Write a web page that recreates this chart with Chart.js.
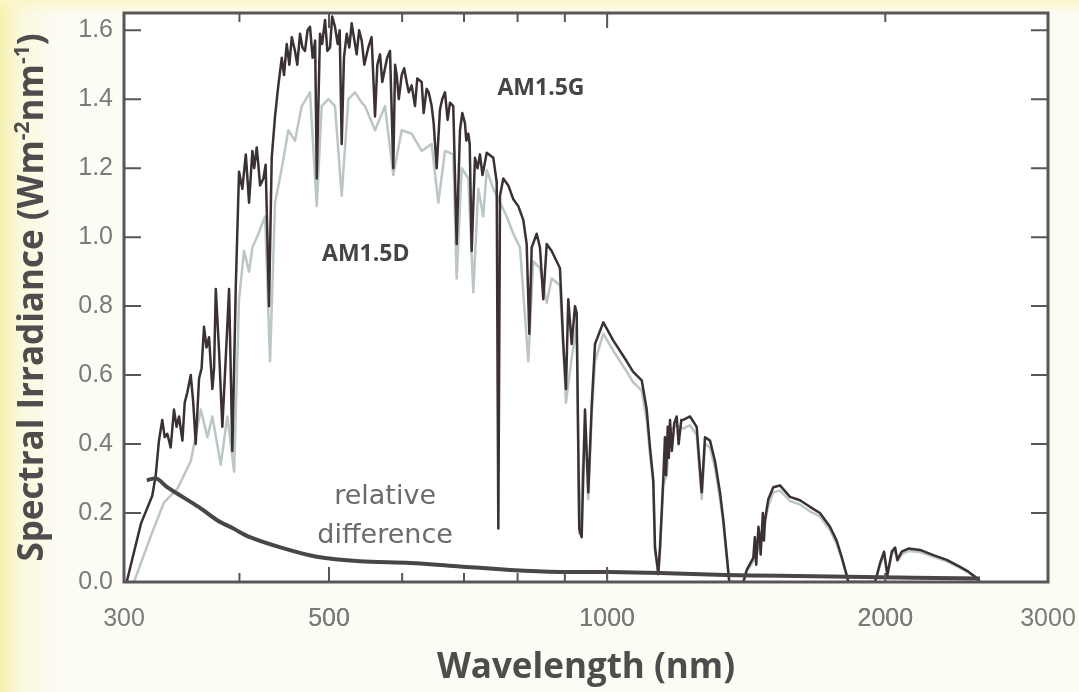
<!DOCTYPE html>
<html>
<head>
<meta charset="utf-8">
<script src="https://cdn.jsdelivr.net/npm/chart.js@4.4.1/dist/chart.umd.min.js"></script>
<style>
  html, body { margin: 0; padding: 0; }
  body {
    width: 1079px; height: 692px; overflow: hidden;
    background:
      linear-gradient(to bottom, rgba(250, 246, 200, 0.9) 0px, rgba(250, 246, 200, 0) 14px),
      linear-gradient(to right, #f5f1b0 0px, #faf8dc 20px, #fcfcf4 60px);
  }
  canvas { display: block; }
</style>
</head>
<body>
<canvas id="spectrum" width="1079" height="692"></canvas>
<script>
// AM1.5G global spectrum (dark line)
const wlGlobal = [302, 313, 321.9, 324.7, 327.3, 330, 332, 334.2, 337, 339.8, 342, 344.1, 347, 349, 351.3, 354.3, 356.5, 358.7, 361.7, 364,
  366.2, 368.5, 370.8, 373.9, 375.5, 377.1, 380.2, 383.3, 386.6, 389.8, 393, 396.4, 399.6, 402.9, 406.4, 409.7, 413.1, 415, 417.6, 419,
  421.1, 424.6, 427, 430.6, 433.5, 437.1, 440.7, 444.5, 447, 450, 453, 455.7, 459.4, 462, 465.2, 468, 471, 474, 476.9, 480,
  483, 485, 488.9, 491.5, 495.1, 498, 501.3, 504, 507.5, 511, 513.5, 516.1, 519, 522.6, 526, 529.1, 532, 535.7, 539, 542.5,
  546, 551.5, 556, 560.8, 564, 567.8, 571, 574.9, 578, 582.1, 586.9, 589.5, 591.9, 595, 599.3, 603, 606.8, 610, 614.4, 619.5,
  623, 629.9, 633, 637.8, 641, 645.8, 649, 653.9, 659.3, 663, 667.6, 672, 676, 681.5, 687.3, 693, 697, 701.7, 704, 707.5,
  710, 713.5, 719.4, 724, 728.4, 733, 740.8, 753, 759.4, 762.5, 765.7, 772, 781.7, 791.5, 801.4, 811.4, 818.3, 823.7, 828.6, 839,
  845.9, 852.9, 860.2, 870.9, 881.8, 889.1, 896.5, 902.5, 907.7, 915.4, 923, 926.9, 932.9, 938.5, 946.3, 954.1, 962.2, 970.2, 990.5, 1015.6,
  1050, 1066.6, 1090, 1103.6, 1112.7, 1121.9, 1126.7, 1136, 1140.8, 1150.2, 1155, 1158, 1163, 1166, 1169.6, 1175, 1182, 1189.3, 1195, 1203,
  1209, 1229.4, 1250, 1265.8, 1276.2, 1292.2, 1308.4, 1324.8, 1335.8, 1347, 1355.8, 1404, 1416, 1439.4, 1445, 1450, 1458, 1463.7, 1466, 1474,
  1478, 1482, 1494.2, 1513, 1538.4, 1577.2, 1617, 1657.7, 1699.5, 1742.4, 1771.7, 1793.9, 1816.4, 1823.6, 1949.8, 1974.3, 1994, 2010.5, 2032.7, 2049.5,
  2061.2, 2084, 2118.5, 2181.2, 2254.6, 2331, 2409.7, 2460, 2501.5, 2532.8];
const irrGlobal = [0.00, 0.17, 0.25, 0.31, 0.41, 0.47, 0.42, 0.43, 0.39, 0.50, 0.45, 0.48, 0.41, 0.52, 0.55, 0.60, 0.52, 0.40, 0.59, 0.62,
  0.74, 0.68, 0.71, 0.56, 0.62, 0.85, 0.67, 0.45, 0.65, 0.85, 0.38, 0.86, 1.19, 1.14, 1.24, 1.10, 1.25, 1.20, 1.26, 1.22,
  1.15, 1.17, 1.21, 0.80, 1.23, 1.35, 1.44, 1.52, 1.47, 1.56, 1.50, 1.58, 1.54, 1.50, 1.59, 1.55, 1.54, 1.60, 1.61, 1.52,
  1.57, 1.17, 1.59, 1.56, 1.63, 1.54, 1.55, 1.64, 1.61, 1.56, 1.60, 1.27, 1.52, 1.59, 1.55, 1.62, 1.58, 1.53, 1.60, 1.57,
  1.50, 1.55, 1.58, 1.35, 1.50, 1.53, 1.45, 1.49, 1.52, 1.54, 1.20, 1.50, 1.47, 1.40, 1.47, 1.49, 1.45, 1.42, 1.44, 1.38,
  1.46, 1.45, 1.36, 1.43, 1.42, 1.38, 1.33, 1.20, 1.37, 1.40, 1.42, 1.34, 1.39, 1.38, 0.98, 1.31, 1.36, 1.33, 1.28, 1.30,
  1.27, 0.96, 1.23, 1.20, 1.24, 1.18, 1.245, 1.23, 1.16, 0.155, 1.12, 1.17, 1.15, 1.11, 1.09, 1.05, 0.98, 0.72, 0.97, 1.01,
  0.97, 0.82, 0.98, 0.96, 0.93, 0.91, 0.69, 0.56, 0.82, 0.69, 0.80, 0.78, 0.155, 0.13, 0.50, 0.26, 0.51, 0.69, 0.753, 0.70,
  0.64, 0.61, 0.585, 0.50, 0.39, 0.295, 0.10, 0.025, 0.10, 0.30, 0.42, 0.31, 0.45, 0.36, 0.47, 0.38, 0.46, 0.48, 0.40, 0.47,
  0.47, 0.48, 0.45, 0.26, 0.42, 0.41, 0.35, 0.26, 0.18, 0.08, 0.00, 0.00, 0.035, 0.07, 0.13, 0.05, 0.16, 0.12, 0.08, 0.20,
  0.12, 0.18, 0.24, 0.275, 0.28, 0.247, 0.237, 0.218, 0.20, 0.16, 0.12, 0.073, 0.02, 0.00, 0.00, 0.055, 0.088, 0.02, 0.088, 0.10,
  0.064, 0.088, 0.097, 0.093, 0.078, 0.064, 0.044, 0.03, 0.015, 0.00];

// AM1.5D direct spectrum (light grey line)
const wlDirect = [307.6, 320.4, 331.3, 342.6, 354.3, 363.3, 369.3, 373.9, 381.8, 388.1, 394.7, 399.6, 404.6, 409.7, 413.1, 419.3, 426.4, 431.7, 437.1, 444.5,
  451.8, 459.4, 467.2, 476.9, 485, 491, 499.2, 507.5, 516.1, 524.7, 533.5, 542.5, 547, 560.8, 574.9, 586.9, 599.3, 614.4, 629.9, 645.8,
  656.6, 667.6, 681.5, 687.3, 696, 707.5, 716.4, 725.3, 734.4, 740.8, 753, 765.7, 778.6, 791.5, 804.8, 821.6, 832, 845.9, 860.2, 870.9,
  889.1, 902.5, 915.4, 926.9, 932.9, 946.3, 954.1, 962.2, 970.2, 990.5, 1015.6, 1050, 1066.6, 1090, 1103.6, 1112.7, 1121.9, 1126.7, 1136, 1140.8,
  1150.2, 1160, 1169.6, 1189.3, 1209, 1229.4, 1250, 1265.8, 1276.2, 1292.2, 1308.4, 1324.8, 1335.8, 1347, 1355.8, 1404, 1416, 1439.4, 1463.7, 1482,
  1494.2, 1513, 1538.4, 1577.2, 1617, 1657.7, 1699.5, 1742.4, 1771.7, 1793.9, 1816.4, 1823.6, 1949.8, 1974.3, 1994, 2010.5, 2032.7, 2049.5, 2061.2, 2084,
  2118.5, 2181.2, 2254.6, 2331, 2409.7, 2460, 2501.5, 2532.8];
const irrDirect = [0.00, 0.13, 0.23, 0.27, 0.35, 0.50, 0.42, 0.48, 0.34, 0.48, 0.32, 0.82, 0.96, 0.90, 0.97, 1.01, 1.06, 0.64, 1.10, 1.20,
  1.31, 1.28, 1.38, 1.42, 1.09, 1.38, 1.40, 1.38, 1.12, 1.40, 1.42, 1.39, 1.38, 1.31, 1.38, 1.18, 1.31, 1.30, 1.25, 1.27,
  1.10, 1.25, 1.24, 0.88, 1.20, 1.17, 0.84, 1.14, 1.06, 1.195, 1.14, 1.10, 1.06, 1.01, 0.97, 0.64, 0.93, 0.91, 0.81, 0.88,
  0.86, 0.52, 0.65, 0.74, 0.14, 0.46, 0.24, 0.48, 0.64, 0.72, 0.67, 0.61, 0.58, 0.555, 0.47, 0.37, 0.28, 0.09, 0.02, 0.09,
  0.28, 0.31, 0.44, 0.455, 0.445, 0.455, 0.425, 0.24, 0.40, 0.39, 0.33, 0.24, 0.17, 0.07, 0.00, 0.00, 0.03, 0.06, 0.11, 0.17,
  0.22, 0.26, 0.265, 0.235, 0.225, 0.205, 0.19, 0.15, 0.11, 0.07, 0.02, 0.00, 0.00, 0.05, 0.08, 0.02, 0.08, 0.09, 0.06, 0.08,
  0.09, 0.087, 0.073, 0.06, 0.041, 0.028, 0.014, 0.00];

// relative difference curve
const wlRelative = [317.5, 325.5, 333.7, 347.5, 362.6, 378, 394, 410.6, 445.8, 485, 540, 612, 693, 785, 889, 1007, 1141, 1342, 1539, 1822, 2532];
const relDiff = [0.295, 0.30, 0.276, 0.246, 0.215, 0.18, 0.155, 0.13, 0.098, 0.073, 0.06, 0.055, 0.045, 0.035, 0.029, 0.029, 0.026, 0.02, 0.018, 0.015, 0.01];

// axes
const xTickLabels = [300, 500, 1000, 2000, 3000];
const xTickMarks = [400, 500, 600, 700, 800, 900, 1000, 2000];
const xLongTicks = [500, 1000];
const yTickValues = [0, 0.2, 0.4, 0.6, 0.8, 1.0, 1.2, 1.4, 1.6];

const toPoints = (xs, ys) => xs.map((v, i) => ({ x: v, y: ys[i] }));

const framePlugin = {
  id: 'frame',
  beforeDatasetsDraw(chart) {
    const { ctx, chartArea: a } = chart;
    ctx.save();
    ctx.fillStyle = '#ffffff';
    ctx.fillRect(a.left, a.top, a.width, a.height);
    ctx.restore();
  },
  afterDatasetsDraw(chart) {
    const { ctx, chartArea: a, scales: { x, y } } = chart;
    ctx.save();
    ctx.strokeStyle = '#5a5658';
    ctx.lineWidth = 2;
    ctx.beginPath();
    xTickMarks.forEach(v => {
      const px = x.getPixelForValue(v);
      const len = xLongTicks.includes(v) ? 15 : 9;
      ctx.moveTo(px, a.bottom); ctx.lineTo(px, a.bottom - len);
      ctx.moveTo(px, a.top); ctx.lineTo(px, a.top + len);
    });
    yTickValues.forEach(v => {
      if (v === 0) return;
      const py = y.getPixelForValue(v);
      ctx.moveTo(a.left, py); ctx.lineTo(a.left + 17, py);
      ctx.moveTo(a.right, py); ctx.lineTo(a.right - 17, py);
    });
    ctx.stroke();
    ctx.lineWidth = 3;
    ctx.strokeRect(a.left, a.top, a.width, a.height);

    // curve labels
    ctx.fillStyle = '#474446';
    ctx.font = 'bold 23px "Open Sans"';
    ctx.textAlign = 'center';
    ctx.textBaseline = 'middle';
    ctx.fillText('AM1.5G', x.getPixelForValue(848), y.getPixelForValue(1.43));
    ctx.fillText('AM1.5D', x.getPixelForValue(548), y.getPixelForValue(0.95));
    ctx.fillStyle = '#6c6a6b';
    ctx.font = '27px "DejaVu Sans"';
    ctx.fillText('relative', x.getPixelForValue(575), y.getPixelForValue(0.246));
    ctx.fillText('difference', x.getPixelForValue(575), y.getPixelForValue(0.133));
    ctx.restore();
  },
  afterDraw(chart) {
    // y axis title with superscripts
    const { ctx, chartArea: a } = chart;
    const parts = [['Spectral Irradiance (Wm', 0], ['-2', 1], ['nm', 0], ['-1', 1], [')', 0]];
    const big = 'bold 35px "Open Sans"', small = 'bold 21px "Open Sans"';
    ctx.save();
    let total = 0;
    parts.forEach(([t, sup]) => { ctx.font = sup ? small : big; total += ctx.measureText(t).width; });
    ctx.translate(33, (a.top + a.bottom) / 2);
    ctx.rotate(-Math.PI / 2);
    ctx.fillStyle = '#4f4c4e';
    ctx.textBaseline = 'middle';
    ctx.textAlign = 'left';
    let pos = -total / 2;
    parts.forEach(([t, sup]) => {
      ctx.font = sup ? small : big;
      ctx.fillText(t, pos, sup ? -10 : 0);
      pos += ctx.measureText(t).width;
    });
    ctx.restore();
  }
};

new Chart(document.getElementById('spectrum'), {
  type: 'line',
  data: {
    datasets: [
      { label: 'relative difference', data: toPoints(wlRelative, relDiff), borderColor: '#4a4547', borderWidth: 4, tension: 0.3 },
      { label: 'AM1.5G', data: toPoints(wlGlobal, irrGlobal), borderColor: '#3a3035', borderWidth: 2.5 },
      { label: 'AM1.5D', data: toPoints(wlDirect, irrDirect), borderColor: '#bcc6c6', borderWidth: 2.5 }
    ]
  },
  options: {
    responsive: false,
    animation: false,
    parsing: false,
    elements: { point: { radius: 0 }, line: { borderJoinStyle: 'round', fill: false } },
    layout: { autoPadding: false, padding: { top: 13, right: 31, left: 0, bottom: 0 } },
    plugins: { legend: { display: false }, tooltip: { enabled: false } },
    scales: {
      x: {
        type: 'logarithmic',
        min: 300,
        max: 3000,
        afterFit: s => { s.height = 110; s.paddingLeft = 0; s.paddingRight = 0; },
        afterBuildTicks: s => { s.ticks = xTickLabels.concat(xTickMarks).map(v => ({ value: v })); },
        grid: { display: false, drawTicks: false },
        border: { display: false },
        ticks: {
          autoSkip: false,
          maxRotation: 0,
          padding: 22,
          color: '#7a7a7a',
          font: { family: 'Liberation Sans', size: 25 },
          callback: v => xTickLabels.includes(v) ? String(v) : ''
        },
        title: {
          display: true,
          text: 'Wavelength (nm)',
          color: '#4f4c4e',
          font: { family: 'Open Sans', size: 35, weight: 'bold' },
          padding: { top: 0, bottom: 3 }
        }
      },
      y: {
        min: 0,
        max: 1.65,
        afterFit: s => { s.width = 124; s.paddingTop = 0; s.paddingBottom = 0; },
        afterBuildTicks: s => { s.ticks = yTickValues.map(v => ({ value: v })); },
        grid: { display: false, drawTicks: false },
        border: { display: false },
        ticks: {
          padding: 11,
          color: '#7a7a7a',
          font: { family: 'Liberation Sans', size: 25 },
          callback: v => v.toFixed(1)
        }
      }
    }
  },
  plugins: [framePlugin]
});
</script>
</body>
</html>
